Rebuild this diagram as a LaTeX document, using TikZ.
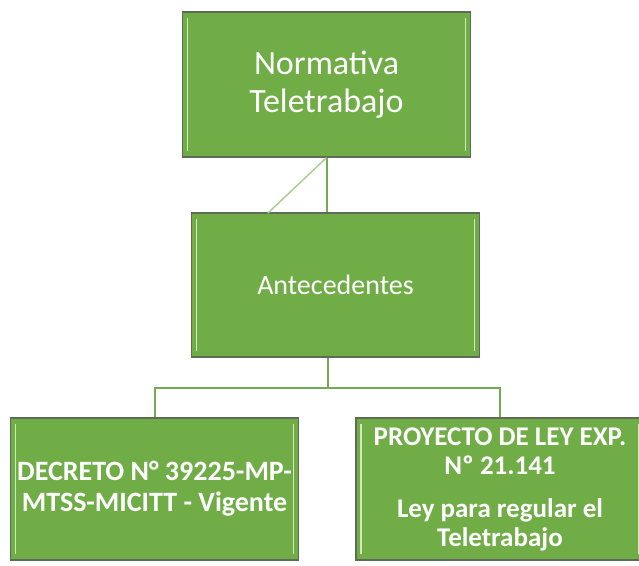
\documentclass[tikz,border=0pt]{standalone}
\usepackage{fontspec}
\setmainfont{Carlito}
\definecolor{boxgreen}{HTML}{70AD47}
\definecolor{boxedge}{HTML}{5E6B57}
\definecolor{linkgreen}{HTML}{74A956}
\definecolor{palegreen}{HTML}{A9CF92}
\definecolor{bevelgreen}{HTML}{CFE9BD}
\begin{document}
\begin{tikzpicture}[x=1pt, y=-1pt]
\tikzstyle{box}=[draw=boxedge, line width=1.3pt, fill=boxgreen, text=white, align=center,
  minimum width=288pt, inner sep=1pt,
  path picture={
    \draw[bevelgreen, line width=1.6pt]
      ([xshift=5pt,yshift=-6pt]path picture bounding box.north west) --
      ([xshift=5pt,yshift=6pt]path picture bounding box.south west)
      ([xshift=-5pt,yshift=-6pt]path picture bounding box.north east) --
      ([xshift=-5pt,yshift=6pt]path picture bounding box.south east);
  }];
\tikzstyle{link}=[linkgreen, line width=2pt];
\useasboundingbox (0,0) rectangle (639,565);
\node[box, minimum height=145pt, font=\fontsize{34}{38}\selectfont] (norm) at (326.5, 84.5) {Normativa\\Teletrabajo};
\node[box, minimum height=144pt, font=\fontsize{28}{32}\selectfont] (ante) at (335.5, 285) {Antecedentes};
\node[box, minimum height=142pt, font=\bfseries\fontsize{28}{31}\selectfont] (decreto) at (154.5, 489) {DECRETO N° 39225-MP-\\MTSS-MICITT - Vigente};
\node[box, minimum height=142pt, font=\bfseries\fontsize{27}{29}\selectfont] (proyecto) at (500, 489) {PROYECTO DE LEY EXP.\\Nº 21.141\\[14pt]Ley para regular el\\Teletrabajo};
\coordinate (diag) at (268, 213);
\coordinate (split) at (327.5, 388);
\draw[link] (norm.south) -- (norm.south |- ante.north);
\draw[palegreen, line width=1.5pt] (norm.south) -- (diag);
\draw[link] (split |- ante.south) -- (split)
  (split) -| (decreto.north)
  (split) -| (proyecto.north);
\end{tikzpicture}
\end{document}
